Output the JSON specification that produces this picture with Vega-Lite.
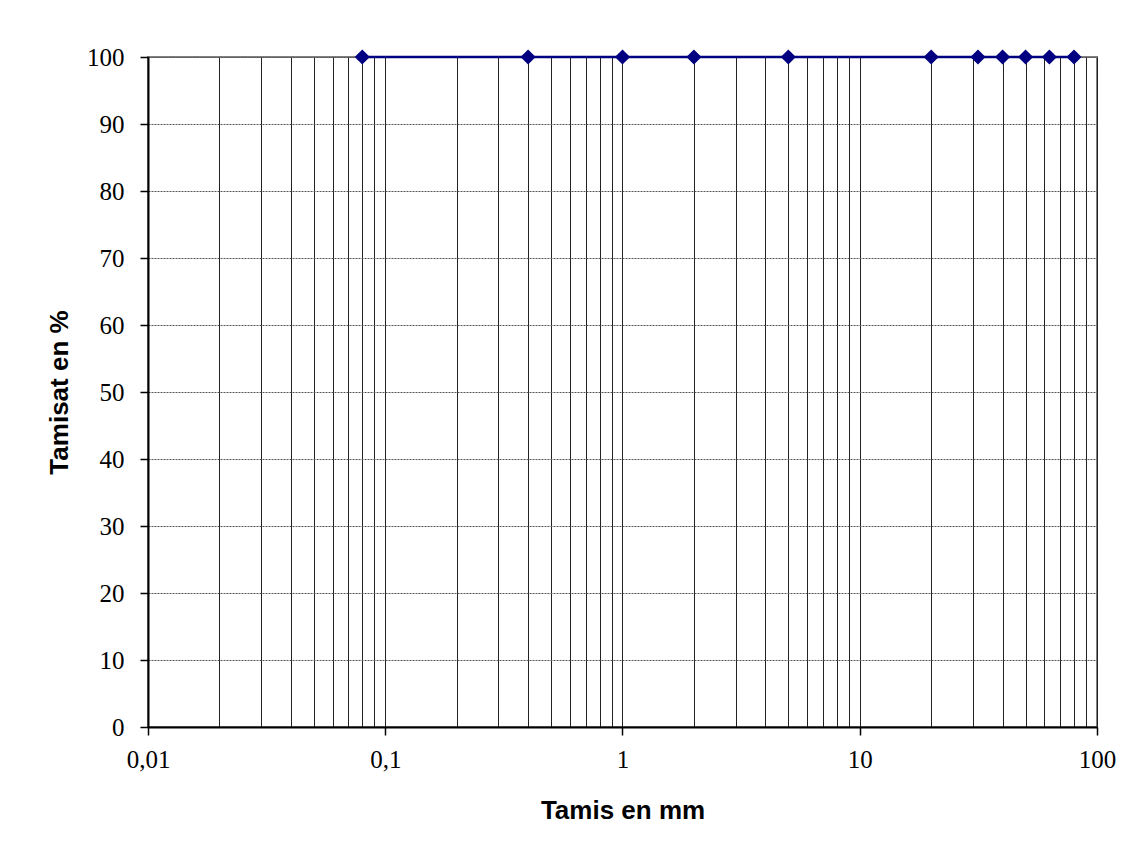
{
  "$schema": "https://vega.github.io/schema/vega-lite/v6.json",
  "autosize": "none",
  "width": 949,
  "height": 670,
  "padding": {"left": 148, "top": 57, "right": 41, "bottom": 128},
  "background": "white",
  "config": {
    "view": {"stroke": "#808080", "strokeWidth": 2},
    "axis": {"labelFont": "Liberation Serif", "labelFontSize": 25, "labelColor": "black", "titleFont": "Liberation Sans", "titleFontSize": 26, "titleFontWeight": "bold", "titleColor": "black", "domainColor": "black", "domainWidth": 2, "tickColor": "black", "tickWidth": 1.5}
  },
  "data": {"values": [
    {"mm": 0.08, "pct": 100},
    {"mm": 0.4, "pct": 100},
    {"mm": 1, "pct": 100},
    {"mm": 2, "pct": 100},
    {"mm": 5, "pct": 100},
    {"mm": 20, "pct": 100},
    {"mm": 31.5, "pct": 100},
    {"mm": 40, "pct": 100},
    {"mm": 50, "pct": 100},
    {"mm": 63, "pct": 100},
    {"mm": 80, "pct": 100}
  ]},
  "encoding": {
    "x": {"field": "mm", "type": "quantitative",
      "scale": {"type": "log", "domain": [0.01, 100], "nice": false},
      "axis": {
        "title": "Tamis en mm",
        "values": [0.01,0.02,0.03,0.04,0.05,0.06,0.07,0.08,0.09,0.1,0.2,0.3,0.4,0.5,0.6,0.7,0.8,0.9,1,2,3,4,5,6,7,8,9,10,20,30,40,50,60,70,80,90,100],
        "labelExpr": "abs(log(datum.value)/LN10 - round(log(datum.value)/LN10)) < 0.001 ? replace(format(datum.value, ''), '.', ',') : ''",
        "tickOpacity": {"condition": {"test": "abs(log(datum.value)/LN10 - round(log(datum.value)/LN10)) < 0.001", "value": 1}, "value": 0},
        "tickSize": 8,
        "labelPadding": 12,
        "labelFlush": false,
        "labelOverlap": false,
        "grid": true,
        "gridColor": "#222222",
        "gridWidth": 1,
        "gridOpacity": 1,
        "titlePadding": 25
      }},
    "y": {"field": "pct", "type": "quantitative",
      "scale": {"domain": [0, 100], "nice": false},
      "axis": {
        "title": "Tamisat en %",
        "values": [0,10,20,30,40,50,60,70,80,90,100],
        "tickSize": 8,
        "labelPadding": 16,
        "grid": true,
        "gridColor": "#555555",
        "gridDash": [2, 1],
        "gridWidth": 1,
        "titlePadding": 14
      }}
  },
  "layer": [
    {"mark": {"type": "line", "color": "#000080", "strokeWidth": 2.5}},
    {"mark": {"type": "point", "shape": "diamond", "filled": true, "color": "#000080", "opacity": 1, "size": 230}}
  ]
}
